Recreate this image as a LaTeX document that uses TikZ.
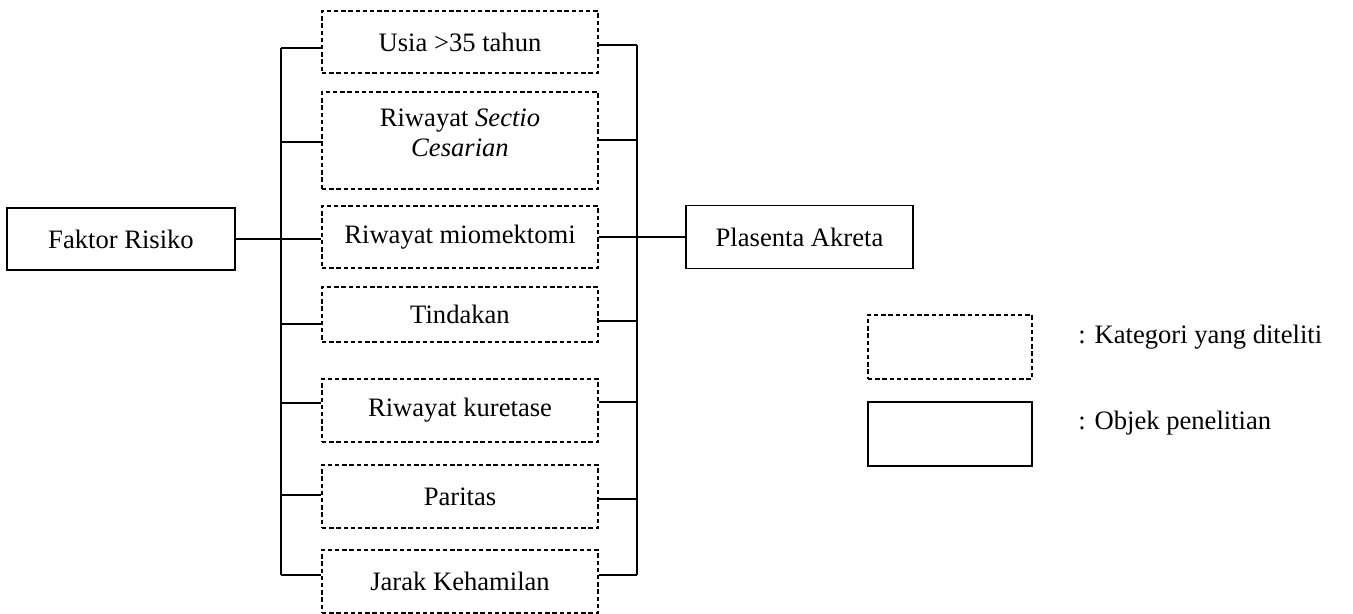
\documentclass[tikz,border=0pt]{standalone}
\usepackage{fontspec}
\setmainfont{Liberation Serif}
\begin{document}
\begin{tikzpicture}[x=0.5pt,y=-0.5pt,
  every node/.style={font=\fontsize{13.3}{15.3}\selectfont, inner sep=0pt},
  dbox/.style={draw, dashed, dash pattern=on 2.2pt off 1.4pt, line width=0.6pt, minimum width=138pt, align=center},
  sbox/.style={draw, line width=0.6pt},
  conn/.style={line width=0.6pt}]
\useasboundingbox (0,0) rectangle (1353,614);
% category boxes
\node[dbox, minimum height=31pt] (b1) at (460,42) {Usia >35 tahun};
\node[dbox, minimum height=48.5pt] (b2) at (460,140.5) {};
\node[align=center] (b2t) at (460,133) {Riwayat \textit{Sectio}\\\textit{Cesarian}};
\node[dbox, minimum height=31pt] (b3) at (460,237) {Riwayat miomektomi};
\node[dbox, minimum height=27.5pt] (b4) at (460,314.5) {Tindakan};
\node[dbox, minimum height=31.5pt] (b5) at (460,410.5) {Riwayat kuretase};
\node[dbox, minimum height=31.5pt] (b6) at (460,496.5) {Paritas};
\node[dbox, minimum height=31.5pt] (b7) at (460,581.5) {Jarak Kehamilan};
% main boxes
\node[sbox, minimum width=114pt, minimum height=31pt] (fr) at (121,239) {Faktor Risiko};
\node[sbox, minimum width=113.5pt, minimum height=31.5pt] (pa) at (799.5,237) {Plasenta Akreta};
% left bus
\coordinate (L1) at (281,48);
\coordinate (L2) at (281,142);
\coordinate (L4) at (281,324);
\coordinate (L5) at (281,403);
\coordinate (L6) at (281,495);
\coordinate (L7) at (281,575);
\draw[conn] (L1) -- (L7);
\draw[conn] (L1) -- (b1.west |- L1);
\draw[conn] (L2) -- (b2.west |- L2);
\draw[conn] (fr.east) -- (b3.west |- fr.east);
\draw[conn] (L4) -- (b4.west |- L4);
\draw[conn] (L5) -- (b5.west |- L5);
\draw[conn] (L6) -- (b6.west |- L6);
\draw[conn] (L7) -- (b7.west |- L7);
% right bus
\coordinate (R1) at (637,45);
\coordinate (R2) at (637,140);
\coordinate (R4) at (637,321);
\coordinate (R5) at (637,402);
\coordinate (R6) at (637,499);
\coordinate (R7) at (637,575);
\draw[conn] (R1) -- (R7);
\draw[conn] (b1.east |- R1) -- (R1);
\draw[conn] (b2.east |- R2) -- (R2);
\draw[conn] (b3.east) -- (pa.west);
\draw[conn] (b4.east |- R4) -- (R4);
\draw[conn] (b5.east |- R5) -- (R5);
\draw[conn] (b6.east |- R6) -- (R6);
\draw[conn] (b7.east |- R7) -- (R7);
% legend
\node[dbox, minimum width=82pt, minimum height=32pt] (lg1) at (950,347) {};
\node[sbox, minimum width=82pt, minimum height=32pt] (lg2) at (950,434) {};
\node[anchor=west] (lt1) at (1078,337) {: Kategori yang diteliti};
\node[anchor=west] (lt2) at (1078,423) {: Objek penelitian};
\end{tikzpicture}
\end{document}
